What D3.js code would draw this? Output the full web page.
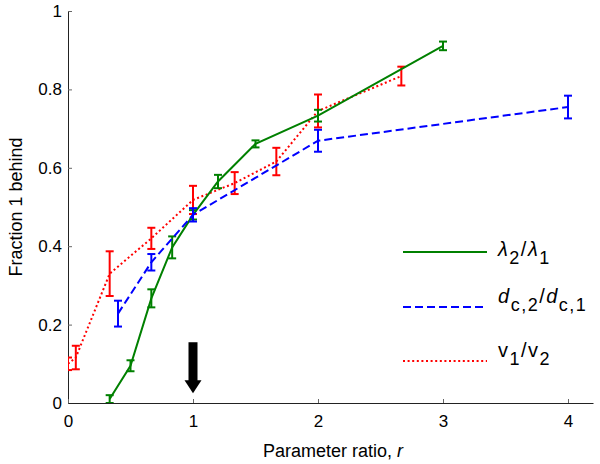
<!DOCTYPE html>
<html>
<head>
<meta charset="utf-8">
<script src="https://cdn.jsdelivr.net/npm/d3@7"></script>
<style>
  body { margin: 0; background: #fff; }
  text { font-family: "Liberation Sans", Arial, Helvetica, sans-serif; }
</style>
</head>
<body>
<div id="chart"></div>
<script>

// Fraction 1 behind vs parameter ratio, three series with error bars

// Set dimensions and margins for the plot
const width = 600;
const height = 464;
const margin = {left: 68, right: 7, bottom: 61, top: 11};

// ---- data ----
// lambda2/lambda1 (green, solid)
const lamX   = [1/3, 0.5, 2/3, 5/6, 1, 1.2, 1.5, 2, 3];
const lamY   = [0.01, 0.095, 0.267, 0.397, 0.48, 0.565, 0.661, 0.733, 0.911];
const lamErr = [0.01, 0.014, 0.023, 0.028, 0.012, 0.017, 0.009, 0.015, 0.011];

// dc2/dc1 (blue, dashed)
const dcX   = [0.4, 2/3, 1, 2, 4];
const dcY   = [0.228, 0.359, 0.48, 0.669, 0.755];
const dcErr = [0.033, 0.021, 0.017, 0.028, 0.029];

// v1/v2 (red, dotted)
const vX   = [0, 0.0625, 1/3, 2/3, 1, 4/3, 5/3, 2, 8/3];
const vY   = [0.1, 0.116, 0.33, 0.42, 0.518, 0.561, 0.616, 0.745, 0.834];
const vErr = [0.016, 0.03, 0.057, 0.027, 0.036, 0.028, 0.035, 0.042, 0.024];

// axis ticks
const xTicks = [0, 1, 2, 3, 4];
const yTicks = [0, 0.2, 0.4, 0.6, 0.8, 1];

// legend labels: *..* = italic, _{..} = subscript
const legendLabels = ["*λ*_{2}/*λ*_{1}", "*d*_{c,2}/*d*_{c,1}", "v_{1}/v_{2}"];

// arrow marking r = 1
const arrowX = 1;
const arrowFrom = 0.155;
const arrowTo = 0.025;

// series table built from the arrays above
const series = [
  {xs: vX,   ys: vY,   errs: vErr,   color: "#ff0000", dash: "2,2.6", label: legendLabels[2]},
  {xs: lamX, ys: lamY, errs: lamErr, color: "#008000", dash: null,    label: legendLabels[0]},
  {xs: dcX,  ys: dcY,  errs: dcErr,  color: "#0000ff", dash: "8,4",   label: legendLabels[1]}
];
const legendOrder = [1, 2, 0];

const svg = d3.select("#chart")
  .append("svg")
  .attr("width", width)
  .attr("height", height);

/*

  Scales and axes

*/

const xScale = d3.scaleLinear()
  .domain([0, 4.2])
  .range([margin.left, width - margin.right]);

const yScale = d3.scaleLinear()
  .domain([0, 1])
  .range([height - margin.bottom, margin.top]);

const fmt = d3.format("~g");

const yAxis = svg.append("g")
  .attr("transform", `translate(${margin.left},0)`)
  .call(d3.axisLeft(yScale)
    .tickValues(yTicks)
    .tickFormat(fmt)
    .tickSizeInner(-4)
    .tickSizeOuter(0)
    .tickPadding(6));

const xAxis = svg.append("g")
  .attr("transform", `translate(0,${height - margin.bottom})`)
  .call(d3.axisBottom(xScale)
    .tickValues(xTicks)
    .tickFormat(fmt)
    .tickSizeInner(-4)
    .tickSizeOuter(0)
    .tickPadding(12));

[xAxis, yAxis].forEach(g => {
  g.attr("font-family", null).attr("font-size", "17px");
  g.select(".domain").attr("stroke", "#222");
  g.selectAll(".tick line").attr("stroke", "#666");
  g.selectAll(".tick text").attr("fill", "#000");
});

// axis titles
svg.append("text")
  .attr("x", 333)
  .attr("y", 457)
  .attr("text-anchor", "middle")
  .attr("font-size", "18px")
  .text("Parameter ratio, ")
  .append("tspan")
    .attr("font-style", "italic")
    .text("r");

svg.append("text")
  .attr("transform", `translate(22,${(margin.top + height - margin.bottom) / 2}) rotate(-90)`)
  .attr("text-anchor", "middle")
  .attr("font-size", "18px")
  .text("Fraction 1 behind");

/*

  Lines and error bars

*/

// clip to the plot area so the r = 0 error bar is cut by the axis
svg.append("clipPath")
  .attr("id", "plot-clip")
  .append("rect")
    .attr("x", margin.left)
    .attr("y", 0)
    .attr("width", width - margin.left)
    .attr("height", height - margin.bottom);

const plot = svg.append("g").attr("clip-path", "url(#plot-clip)");

const line = d3.line()
  .x(d => xScale(d[0]))
  .y(d => yScale(d[1]));

const capHalf = 4;

series.forEach(s => {
  const pts = s.xs.map((x, i) => [x, s.ys[i], s.errs[i]]);
  const g = plot.append("g");

  g.append("path")
    .datum(pts)
    .attr("fill", "none")
    .attr("stroke", s.color)
    .attr("stroke-width", 2)
    .attr("stroke-dasharray", s.dash)
    .attr("d", line);

  const bars = g.selectAll(".err")
    .data(pts)
    .enter()
    .append("g")
      .attr("class", "err")
      .attr("stroke", s.color)
      .attr("stroke-width", 2);

  bars.append("line")
    .attr("x1", d => xScale(d[0]))
    .attr("x2", d => xScale(d[0]))
    .attr("y1", d => yScale(d[1] - d[2]))
    .attr("y2", d => yScale(d[1] + d[2]));

  [-1, 1].forEach(sign => {
    bars.append("line")
      .attr("x1", d => xScale(d[0]) - capHalf)
      .attr("x2", d => xScale(d[0]) + capHalf)
      .attr("y1", d => yScale(d[1] + sign * d[2]))
      .attr("y2", d => yScale(d[1] + sign * d[2]));
  });
});

/*

  Arrow at r = 1

*/

const ax = xScale(arrowX);
const headLen = 13;
svg.append("rect")
  .attr("x", ax - 4.5)
  .attr("y", yScale(arrowFrom))
  .attr("width", 9)
  .attr("height", yScale(arrowTo) - yScale(arrowFrom) - headLen + 1)
  .attr("fill", "#000");

svg.append("path")
  .attr("d", `M${ax - 8.5},${yScale(arrowTo) - headLen} L${ax + 8.5},${yScale(arrowTo) - headLen} L${ax},${yScale(arrowTo)} Z`)
  .attr("fill", "#000");

/*

  Legend

*/

const legendY = [252, 307, 361];
const legendTextShift = [4, -4, -4];   // text sits a bit off its sample line

// turn the little markup into tspans
function richText(sel, str) {
  const parts = str.split(/(\*[^*]+\*|_\{[^}]+\})/).filter(p => p.length);
  let shifted = false;
  parts.forEach(p => {
    const t = sel.append("tspan");
    if (p.startsWith("_{")) {
      t.text(p.slice(2, -1)).attr("font-size", "18px").attr("dy", shifted ? 0 : 8);
      shifted = true;
    } else {
      if (shifted) { t.attr("dy", -8); shifted = false; }
      if (p.startsWith("*")) {
        t.text(p.slice(1, -1)).attr("font-style", "italic");
      } else {
        t.text(p);
      }
    }
  });
}

legendOrder.forEach((si, k) => {
  const s = series[si];
  const y = legendY[k];
  svg.append("line")
    .attr("x1", 403)
    .attr("x2", 487)
    .attr("y1", y)
    .attr("y2", y)
    .attr("stroke", s.color)
    .attr("stroke-width", 2)
    .attr("stroke-dasharray", s.dash);

  const txt = svg.append("text")
    .attr("x", 498)
    .attr("y", y + legendTextShift[k])
    .attr("font-size", "20px")
    .attr("letter-spacing", "1.5px");
  richText(txt, s.label);
});

</script>
</body>
</html>
